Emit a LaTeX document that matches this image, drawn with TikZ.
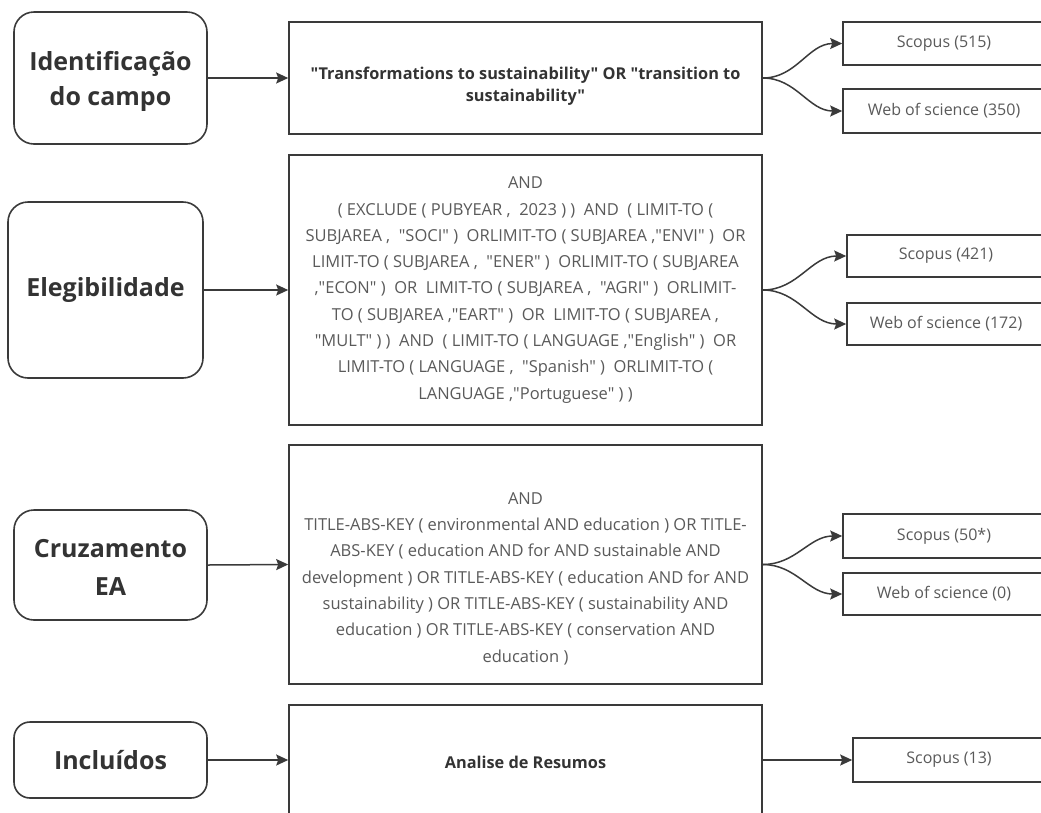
\documentclass[tikz,border=0pt]{standalone}
\usepackage{fontspec}
\setmainfont{Open Sans}[Ligatures=TeXOff]
\usetikzlibrary{arrows.meta,calc}
\definecolor{edge}{HTML}{3A3A3A}
\definecolor{darktxt}{HTML}{333333}
\definecolor{greytxt}{HTML}{5A5A5A}
\tikzset{
  stagetext/.style={text=darktxt, font=\fontsize{25}{35}\selectfont\bfseries, align=center, inner sep=0pt},
  stage/.style={stagetext, draw=edge, line width=1.6pt, rounded corners=20pt, fill=white},
  qbox/.style={draw=edge, line width=1.6pt, fill=white, minimum width=473pt, inner sep=0pt},
  qtext/.style={text=greytxt, font=\fontsize{16.5}{26.3}\selectfont, align=center, inner sep=0pt},
  qbold/.style={text=darktxt, font=\fontsize{16.3}{22}\selectfont\bfseries, align=center, inner sep=0pt},
  rbox/.style={draw=edge, line width=1.6pt, fill=white, text=greytxt,
    font=\fontsize{16}{20}\selectfont, inner sep=0pt},
  arr/.style={draw=edge, line width=1.5pt, -{Stealth[length=12pt,width=11pt,inset=2pt]}},
}
\begin{document}
\begin{tikzpicture}[x=1pt,y=-1pt]
\clip (0,0) rectangle (1041,812);
\fill[white] (0,0) rectangle (1041,812);

% stage boxes
\node[stage, minimum width=193pt, minimum height=132pt] (L1) at (110.5,78) {};
\node[stagetext] at (110.5,81) {Identificação\\do campo};
\node[stage, minimum width=195pt, minimum height=176pt] (L2) at (105.5,290) {Elegibilidade};
\node[stage, minimum width=193pt, minimum height=110pt] (L3) at (110.5,565) {};
\node[stagetext, font=\fontsize{25}{38}\selectfont\bfseries] at (110.5,567) {Cruzamento\\EA};
\node[stage, rounded corners=16pt, minimum width=193pt, minimum height=76pt] (L4) at (110.5,760) {Incluídos};

% query boxes
\node[qbox, minimum height=112pt] (Q1) at (525.5,78) {};
\node[qbold] at (525.5,86) {"Transformations to sustainability" OR "transition to\\sustainability"};

\node[qbox, minimum height=270pt] (Q2) at (525.5,290) {};
\node[qtext] at (525.5,290) {AND\\
( EXCLUDE ( PUBYEAR ,\ \ 2023 ) )\ \ AND\ \ ( LIMIT-TO (\\
SUBJAREA ,\ \ "SOCI" )\ \ ORLIMIT-TO ( SUBJAREA ,"ENVI" )\ \ OR\\
LIMIT-TO ( SUBJAREA ,\ \ "ENER" )\ \ ORLIMIT-TO ( SUBJAREA\\
,"ECON" )\ \ OR\ \ LIMIT-TO ( SUBJAREA ,\ \ "AGRI" )\ \ ORLIMIT-\\
TO ( SUBJAREA ,"EART" )\ \ OR\ \ LIMIT-TO ( SUBJAREA ,\\
"MULT" ) )\ \ AND\ \ ( LIMIT-TO ( LANGUAGE ,"English" )\ \ OR\\
LIMIT-TO ( LANGUAGE ,\ \ "Spanish" )\ \ ORLIMIT-TO (\\
LANGUAGE ,"Portuguese" ) )};

\node[qbox, minimum height=239pt] (Q3) at (525.5,564.5) {};
\node[qtext] at (525.5,578.5) {AND\\
TITLE-ABS-KEY ( environmental AND education ) OR TITLE-\\
ABS-KEY ( education AND for AND sustainable AND\\
development ) OR TITLE-ABS-KEY ( education AND for AND\\
sustainability ) OR TITLE-ABS-KEY ( sustainability AND\\
education ) OR TITLE-ABS-KEY ( conservation AND\\
education )};

\node[qbox, minimum height=125pt] (Q4) at (525.5,767.5) {};
\node[qbold] at (525.5,762) {Analise de Resumos};

% result boxes
\node[rbox, minimum width=202pt, minimum height=43pt] (S1) at (944,43.5) {Scopus (515)};
\node[rbox, minimum width=202pt, minimum height=44pt] (W1) at (944,111) {Web of science (350)};
\node[rbox, minimum width=198pt, minimum height=42pt] (S2) at (946,256) {Scopus (421)};
\node[rbox, minimum width=198pt, minimum height=42pt] (W2) at (946,324) {Web of science (172)};
\node[rbox, minimum width=202pt, minimum height=44pt] (S3) at (944,536) {Scopus (50*)};
\node[rbox, minimum width=202pt, minimum height=42pt] (W3) at (944,594) {Web of science (0)};
\node[rbox, minimum width=192pt, minimum height=44pt] (S4) at (949,760) {Scopus (13)};

% connectors
\draw[arr] (L1.east) -- (Q1.west);
\draw[arr] (L2.east) -- (Q2.west);
\draw[arr] (L3.east) -- (Q3.west);
\draw[arr] (L4.east) -- (L4.east -| Q4.west);

\draw[arr] (Q1.east) to[out=0,in=180] (S1.west);
\draw[arr] (Q1.east) to[out=0,in=180] (W1.west);
\draw[arr] (Q2.east) to[out=0,in=180] (S2.west);
\draw[arr] (Q2.east) to[out=0,in=180] (W2.west);
\draw[arr] (Q3.east) to[out=0,in=180] (S3.west);
\draw[arr] (Q3.east) to[out=0,in=180] (W3.west);
\draw[arr] (S4.west -| Q4.east) -- (S4.west);
\end{tikzpicture}
\end{document}
